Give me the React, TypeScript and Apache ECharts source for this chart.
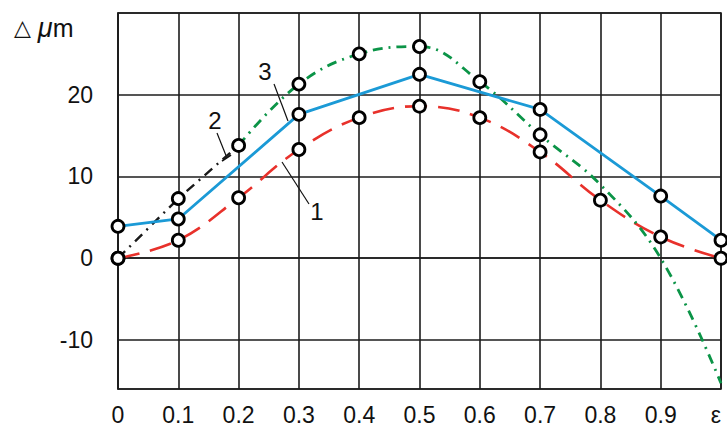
import React, { useEffect, useRef } from "react";
import * as echarts from "echarts";

// x positions (ε fraction) and Δμm values
const xTicks = [0, 0.1, 0.2, 0.3, 0.4, 0.5, 0.6, 0.7, 0.8, 0.9, 1.0];

const curve1X = [0, 0.1, 0.2, 0.3, 0.4, 0.5, 0.6, 0.7, 0.8, 0.9, 1.0];
const curve1Y = [0, 2.2, 7.4, 13.3, 17.2, 18.6, 17.2, 13.0, 7.1, 2.6, 0];

const curve2aX = [0, 0.1, 0.2];
const curve2aY = [0, 7.3, 13.8];

const curve2bX = [0.2, 0.3, 0.4, 0.5, 0.6, 0.7, 0.8, 0.9, 1.0];
const curve2bY = [13.8, 21.3, 25.0, 25.9, 21.6, 15.1, 9.0, 0, -15.3];
const curve2bMarked = [false, true, true, true, true, true, false, false, false];

const curve3X = [0, 0.1, 0.3, 0.5, 0.7, 0.9, 1.0];
const curve3Y = [3.9, 4.8, 17.6, 22.5, 18.2, 7.6, 2.2];

const yLabels = [-10, 0, 10, 20];

const FONT = "'Liberation Sans', Arial, sans-serif";

function pairs(xs: number[], ys: number[]) {
  return xs.map((x, i) => [x, ys[i]]);
}

export default function App() {
  const ref = useRef<HTMLDivElement>(null);

  useEffect(() => {
    if (!ref.current) return;
    const chart = echarts.init(ref.current, undefined, { renderer: "svg" });

    const markers = [
      ...pairs(curve1X, curve1Y),
      ...pairs(curve2aX, curve2aY),
      ...pairs(curve2bX, curve2bY).filter((_, i) => curve2bMarked[i]),
      ...pairs(curve3X, curve3Y),
    ];

    const gridColor = "#1c1c1c";

    chart.setOption({
      animation: false,
      backgroundColor: "#ffffff",
      grid: {
        left: 118,
        right: 6,
        top: 13,
        bottom: 37,
        show: true,
        borderColor: gridColor,
        borderWidth: 1.6,
        containLabel: false,
        outerBoundsMode: "none",
      },
      xAxis: {
        type: "value",
        min: 0,
        max: 1,
        interval: 0.1,
        axisLine: { show: true, lineStyle: { color: gridColor, width: 1.6 } },
        axisTick: { show: false },
        splitLine: { show: true, lineStyle: { color: gridColor, width: 1.6 } },
        axisLabel: {
          color: "#111",
          fontSize: 23,
          fontFamily: FONT,
          margin: 14,
          hideOverlap: false,
          alignMaxLabel: "right",
          formatter: (v: number) => {
            const idx = xTicks.findIndex((t) => Math.abs(t - v) < 1e-6);
            if (idx < 0) return "";
            if (idx === xTicks.length - 1) return "ε";
            if (idx === 0) return "0";
            return xTicks[idx].toFixed(1);
          },
        },
      },
      yAxis: {
        type: "value",
        min: -16,
        max: 30,
        splitNumber: 5,
        axisLine: { show: true, lineStyle: { color: gridColor, width: 1.6 } },
        axisTick: { show: false },
        splitLine: { show: true, lineStyle: { color: gridColor, width: 1.6 } },
        axisLabel: {
          color: "#111",
          fontSize: 23,
          fontFamily: FONT,
          margin: 25,
          formatter: (v: number) =>
            yLabels.some((t) => Math.abs(t - v) < 1e-6) ? String(Math.round(v)) : "",
        },
      },
      series: [
        {
          type: "line",
          name: "1",
          data: pairs(curve1X, curve1Y),
          smooth: 0.4,
          showSymbol: false,
          lineStyle: { color: "#e8312b", width: 2.6, type: [22, 11] },
          z: 2,
        },
        {
          type: "line",
          name: "2a",
          data: pairs(curve2aX, curve2aY),
          showSymbol: false,
          lineStyle: { color: "#1a1a1a", width: 2.4, type: [10, 6, 2, 6] },
          z: 2,
        },
        {
          type: "line",
          name: "2b",
          data: pairs(curve2bX, curve2bY),
          smooth: 0.4,
          showSymbol: false,
          lineStyle: { color: "#0b9447", width: 2.8, type: [10, 6, 2, 6] },
          z: 2,
        },
        {
          type: "line",
          name: "3",
          data: pairs(curve3X, curve3Y),
          showSymbol: false,
          lineStyle: { color: "#1b9ad6", width: 2.8 },
          z: 3,
        },
        {
          type: "scatter",
          name: "points",
          data: markers,
          symbol: "circle",
          symbolSize: 12,
          itemStyle: { color: "#ffffff", borderColor: "#000", borderWidth: 2.8, opacity: 1 },
          z: 5,
        },
      ],
      graphic: [
        {
          type: "text",
          left: 14,
          top: 14,
          style: {
            text: "{t|△} {m|μ}m",
            rich: {
              t: { fontSize: 22, fontFamily: "'DejaVu Sans', sans-serif", fill: "#111" },
              m: { fontSize: 27, fontStyle: "italic", fontFamily: FONT, fill: "#111" },
            },
            fontSize: 25,
            fontFamily: FONT,
            fill: "#111",
          },
        },
        {
          type: "line",
          shape: { x1: 282, y1: 162, x2: 309, y2: 204 },
          style: { stroke: "#111", lineWidth: 1.2 },
        },
        {
          type: "text",
          x: 317,
          y: 211,
          style: { text: "1", fontSize: 24, fontFamily: FONT, fill: "#111", align: "center", verticalAlign: "middle" },
        },
        {
          type: "line",
          shape: { x1: 217, y1: 133, x2: 227, y2: 158 },
          style: { stroke: "#111", lineWidth: 1.2 },
        },
        {
          type: "line",
          shape: { x1: 222, y1: 161, x2: 231, y2: 155 },
          style: { stroke: "#111", lineWidth: 1.6 },
        },
        {
          type: "text",
          x: 215,
          y: 120,
          style: { text: "2", fontSize: 24, fontFamily: FONT, fill: "#111", align: "center", verticalAlign: "middle" },
        },
        {
          type: "line",
          shape: { x1: 274, y1: 84, x2: 288, y2: 121 },
          style: { stroke: "#111", lineWidth: 1.2 },
        },
        {
          type: "text",
          x: 265,
          y: 71,
          style: { text: "3", fontSize: 24, fontFamily: FONT, fill: "#111", align: "center", verticalAlign: "middle" },
        },
      ],
    });

    return () => chart.dispose();
  }, []);

  return (
    <div
      ref={ref}
      style={{ position: "fixed", left: 0, top: 0, width: 727, height: 426, background: "#fff" }}
    />
  );
}
